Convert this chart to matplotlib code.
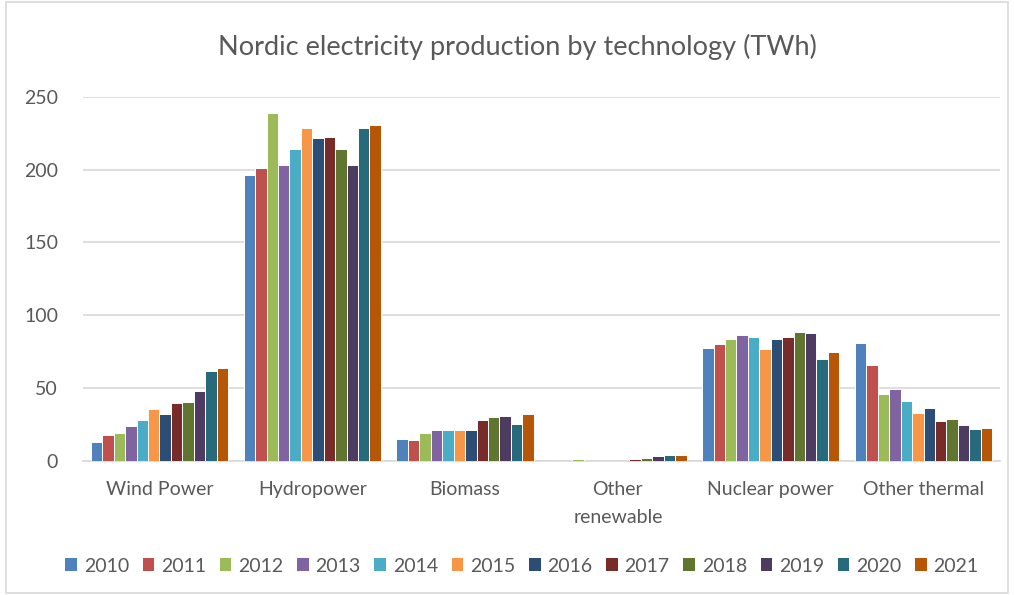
import matplotlib
matplotlib.use("Agg")
import matplotlib.pyplot as plt
import numpy as np
from matplotlib.patches import Rectangle

plt.rcParams['font.family'] = ['Lato', 'DejaVu Sans']

categories = ["Wind Power", "Hydropower", "Biomass", "Other\nrenewable", "Nuclear power", "Other thermal"]
years = ["2010", "2011", "2012", "2013", "2014", "2015", "2016", "2017", "2018", "2019", "2020", "2021"]
colors = ["#4F81BD", "#C0504D", "#9BBB59", "#8064A2", "#4BACC6", "#F79646",
          "#2C4D75", "#772C2A", "#5F7530", "#4D3B62", "#276A7C", "#B65708"]

wind = [12.4, 17.2, 19.0, 23.8, 28.0, 35.1, 32.1, 39.5, 40.2, 47.5, 61.3, 63.8]
hydro = [196.3, 201.1, 238.7, 202.9, 214.2, 228.9, 221.5, 222.5, 214.2, 202.9, 228.9, 230.7]
biomass = [14.9, 14.0, 19.0, 21.3, 21.3, 21.3, 21.3, 28.0, 29.6, 30.5, 25.0, 32.1]
other_renew = [0.0, 0.0, 1.0, 0.0, 0.0, 0.0, 0.0, 1.0, 2.0, 3.0, 3.7, 3.7]
nuclear = [77.5, 80.1, 83.3, 86.5, 84.9, 76.7, 83.3, 84.9, 88.1, 87.4, 69.5, 74.4]
other_thermal = [80.8, 65.4, 45.9, 49.1, 41.0, 32.8, 36.0, 27.1, 28.7, 24.1, 21.6, 22.3]

data = np.array([wind, hydro, biomass, other_renew, nuclear, other_thermal])  # cat x year

W, H = 1015, 595
fig = plt.figure(figsize=(W / 100, H / 100), dpi=100)
ax = fig.add_axes([83 / W, 1 - 460.5 / H, (1000 - 83) / W, (460.5 - 97) / H])

x = np.arange(len(categories))
step = 0.0748
for i, (yr, col) in enumerate(zip(years, colors)):
    ax.bar(x + (i - 5.5) * step, data[:, i], width=step, color=col,
           edgecolor="white", linewidth=0.7, label=yr, zorder=3)

ax.set_xlim(-0.5, len(categories) - 0.5)
ax.set_ylim(0, 250)
ax.set_yticks([0, 50, 100, 150, 200, 250])
ax.yaxis.grid(True, color="#D9D9D9", linewidth=1.2, zorder=0)
ax.set_axisbelow(True)
for s in ["top", "right", "left"]:
    ax.spines[s].set_visible(False)
ax.spines["bottom"].set_color("#D9D9D9")
ax.spines["bottom"].set_linewidth(1.2)
ax.tick_params(axis="both", length=0, labelsize=14, colors="#595959")
ax.tick_params(axis="y", pad=18)
ax.tick_params(axis="x", pad=15)
ax.set_xticks(x)
ax.set_xticklabels(categories, linespacing=1.75)

fig.text(517 / W, 1 - 47 / H, "Nordic electricity production by technology (TWh)",
         ha="center", va="center", fontsize=19.5, color="#595959")

handles, labels = ax.get_legend_handles_labels()
leg = fig.legend(handles, labels, loc="center", bbox_to_anchor=(522 / W, 1 - 566 / H),
                 ncol=12, frameon=False, fontsize=14, handlelength=0.6, handleheight=0.6,
                 handletextpad=0.35, columnspacing=0.7, labelcolor="#595959")
for h in leg.legend_handles:
    h.set_edgecolor("none")

fig.patches.append(Rectangle((6 / W, 0.003), (1008 - 6) / W, 0.994, transform=fig.transFigure,
                             fill=False, edgecolor="#D9D9D9", linewidth=1.2))

fig.savefig("out.png", dpi=100)
